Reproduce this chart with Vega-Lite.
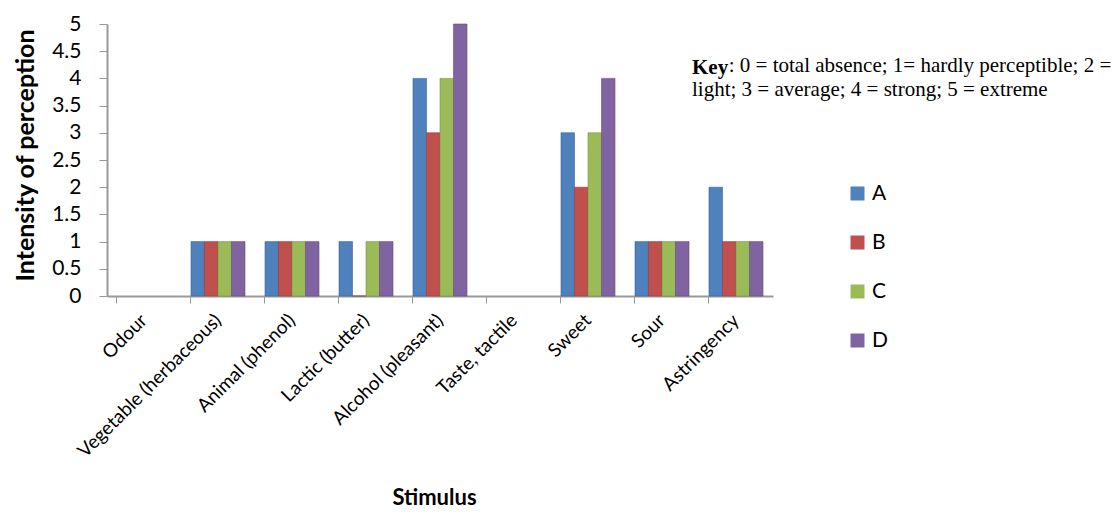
{
  "$schema": "https://vega.github.io/schema/vega-lite/v6.json",
  "autosize": {"type": "none"},
  "width": 666,
  "height": 272,
  "padding": {"left": 107, "top": 24, "right": 344, "bottom": 216},
  "background": "white",
  "title": {
    "text": "Key",
    "subtitle": ["\u200b\u00a0\u00a0\u00a0\u00a0\u00a0\u00a0\u00a0: 0 = total absence; 1= hardly perceptible; 2 =", "light; 3 = average; 4 = strong; 5 = extreme"],
    "anchor": "start",
    "orient": "top",
    "frame": "group",
    "font": "Liberation Serif",
    "fontSize": 21,
    "fontWeight": "bold",
    "color": "black",
    "subtitleFont": "Liberation Serif",
    "subtitleFontSize": 21,
    "subtitleFontWeight": "normal",
    "subtitleColor": "black",
    "subtitleLineHeight": 24,
    "subtitlePadding": -23,
    "dx": 585,
    "dy": 89,
    "offset": 0
  },
  "data": {
    "values": [
      {"stimulus": "Vegetable (herbaceous)", "sample": "A", "value": 1},
      {"stimulus": "Vegetable (herbaceous)", "sample": "B", "value": 1},
      {"stimulus": "Vegetable (herbaceous)", "sample": "C", "value": 1},
      {"stimulus": "Vegetable (herbaceous)", "sample": "D", "value": 1},
      {"stimulus": "Animal (phenol)", "sample": "A", "value": 1},
      {"stimulus": "Animal (phenol)", "sample": "B", "value": 1},
      {"stimulus": "Animal (phenol)", "sample": "C", "value": 1},
      {"stimulus": "Animal (phenol)", "sample": "D", "value": 1},
      {"stimulus": "Lactic (butter)", "sample": "A", "value": 1},
      {"stimulus": "Lactic (butter)", "sample": "B", "value": 0},
      {"stimulus": "Lactic (butter)", "sample": "C", "value": 1},
      {"stimulus": "Lactic (butter)", "sample": "D", "value": 1},
      {"stimulus": "Alcohol (pleasant)", "sample": "A", "value": 4},
      {"stimulus": "Alcohol (pleasant)", "sample": "B", "value": 3},
      {"stimulus": "Alcohol (pleasant)", "sample": "C", "value": 4},
      {"stimulus": "Alcohol (pleasant)", "sample": "D", "value": 5},
      {"stimulus": "Sweet", "sample": "A", "value": 3},
      {"stimulus": "Sweet", "sample": "B", "value": 2},
      {"stimulus": "Sweet", "sample": "C", "value": 3},
      {"stimulus": "Sweet", "sample": "D", "value": 4},
      {"stimulus": "Sour", "sample": "A", "value": 1},
      {"stimulus": "Sour", "sample": "B", "value": 1},
      {"stimulus": "Sour", "sample": "C", "value": 1},
      {"stimulus": "Sour", "sample": "D", "value": 1},
      {"stimulus": "Astringency", "sample": "A", "value": 2},
      {"stimulus": "Astringency", "sample": "B", "value": 1},
      {"stimulus": "Astringency", "sample": "C", "value": 1},
      {"stimulus": "Astringency", "sample": "D", "value": 1}
    ]
  },
  "mark": {"type": "bar", "strokeWidth": 0.6},
  "encoding": {
    "x": {
      "field": "stimulus",
      "type": "nominal",
      "scale": {
        "domain": ["Odour", "Vegetable (herbaceous)", "Animal (phenol)", "Lactic (butter)", "Alcohol (pleasant)", "Taste, tactile", "Sweet", "Sour", "Astringency"],
        "paddingInner": 0.27,
        "paddingOuter": 0.135
      },
      "axis": {
        "title": "Stimulus",
        "titleFont": "Lato",
        "titleFontSize": 22,
        "titleFontWeight": "bold",
        "titleColor": "black",
        "titleX": 327,
        "titleY": 201,
        "titleAlign": "center",
        "titleBaseline": "middle",
        "labelAngle": -45,
        "labelAlign": "right",
        "labelBaseline": "middle",
        "labelFont": "Lato",
        "labelFontSize": 19,
        "labelColor": "black",
        "labelPadding": 14,
        "labelLimit": 400,
        "labelOverlap": false,
        "bandPosition": 0,
        "tickColor": "#999999",
        "tickSize": 7,
        "domainColor": "#999999",
        "domainWidth": 2,
        "grid": false
      }
    },
    "xOffset": {"field": "sample", "type": "nominal", "scale": {"paddingInner": 0, "paddingOuter": 0}},
    "y": {
      "field": "value",
      "type": "quantitative",
      "scale": {"domain": [0, 5], "nice": false},
      "axis": {
        "title": "Intensity of perception",
        "titleFont": "Lato",
        "titleFontSize": 25,
        "titleFontWeight": "bold",
        "titleColor": "black",
        "titleX": -82,
        "titleY": 131,
        "titleAngle": -90,
        "titleAlign": "center",
        "titleBaseline": "middle",
        "values": [0, 0.5, 1, 1.5, 2, 2.5, 3, 3.5, 4, 4.5, 5],
        "format": "~g",
        "labelFont": "Lato",
        "labelFontSize": 21,
        "labelColor": "black",
        "labelPadding": 18,
        "tickColor": "#999999",
        "tickSize": 8,
        "domainColor": "#999999",
        "domainWidth": 2,
        "grid": false
      }
    },
    "color": {
      "field": "sample",
      "type": "nominal",
      "scale": {"domain": ["A", "B", "C", "D"], "range": ["#4F81BD", "#C0504D", "#9BBB59", "#8064A2"]},
      "legend": {
        "title": null,
        "orient": "none",
        "legendX": 740,
        "legendY": 159,
        "symbolType": "square",
        "symbolSize": 196,
        "symbolStrokeWidth": 0,
        "labelFont": "Lato",
        "labelFontSize": 21,
        "labelColor": "black",
        "labelOffset": 4,
        "rowPadding": 27
      }
    },
    "stroke": {
      "field": "sample",
      "type": "nominal",
      "scale": {"domain": ["A", "B", "C", "D"], "range": ["#3A6390", "#923C3A", "#779042", "#614C7B"]},
      "legend": null
    }
  },
  "config": {"view": {"stroke": null}}
}
